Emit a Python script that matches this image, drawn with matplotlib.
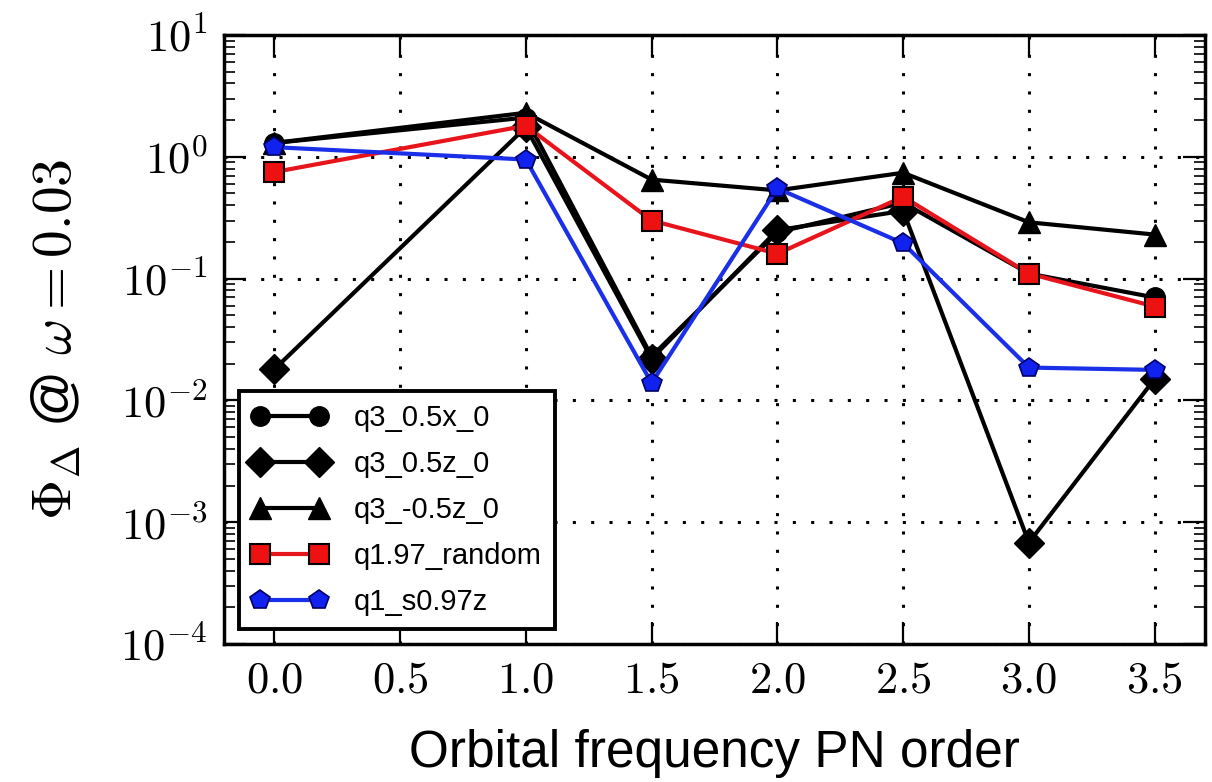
import numpy as np
import matplotlib
matplotlib.use("Agg")
import matplotlib.pyplot as plt

plt.rcParams['mathtext.fontset'] = 'cm'
plt.rcParams['font.family'] = ['Liberation Sans', 'DejaVu Sans']

# ---------------- data ----------------
pn_order = [0.0, 1.0, 1.5, 2.0, 2.5, 3.0, 3.5]

q3_05x_0 = [1.3, 2.1, 0.023, 0.24, 0.42, 0.11, 0.07]
q3_05z_0 = [0.018, 1.75, 0.022, 0.25, 0.36, 0.00068, 0.015]
q3_m05z_0 = [1.3, 2.3, 0.65, 0.53, 0.74, 0.29, 0.23]
q197_random = [0.75, 1.8, 0.30, 0.16, 0.47, 0.11, 0.059]
q1_s097z = [1.2, 0.95, 0.0139, 0.55, 0.195, 0.0186, 0.0178]

labels = ['q3_0.5x_0', 'q3_0.5z_0', 'q3_-0.5z_0', 'q1.97_random', 'q1_s0.97z']

xticks = [0.0, 0.5, 1.0, 1.5, 2.0, 2.5, 3.0, 3.5]
xtick_labels = ['$0.0$', '$0.5$', '$1.0$', '$1.5$', '$2.0$', '$2.5$', '$3.0$', '$3.5$']
yticks = [1e-4, 1e-3, 1e-2, 1e-1, 1e0, 1e1]
ytick_labels = ['$10^{-4}$', '$10^{-3}$', '$10^{-2}$', '$10^{-1}$', '$10^{0}$', '$10^{1}$']

# ---------------- figure ----------------
fig = plt.figure(figsize=(12.12, 7.82), dpi=100)
ax = fig.add_axes([0.1848, 0.1765, 0.8094, 0.7787])

lw = 3.0
ax.plot(pn_order, q3_05x_0, 'k-o', lw=lw, ms=14, mec='k', label=labels[0])
ax.plot(pn_order, q3_05z_0, 'k-D', lw=lw, ms=15, mec='k', label=labels[1])
ax.plot(pn_order, q3_m05z_0, 'k-^', lw=lw, ms=16, mec='k', label=labels[2])
ax.plot(pn_order, q197_random, '-s', color='#e8141b', mfc='#ee1111', mec='k',
        mew=1.5, lw=lw, ms=15, label=labels[3])
ax.plot(pn_order, q1_s097z, '-p', color='#1a2fe8', mfc='#1122ee', mec='#000066',
        mew=1.2, lw=lw, ms=15, label=labels[4])

ax.set_yscale('log')
ax.set_xlim(-0.2, 3.7)
ax.set_ylim(1e-4, 1e1)

ax.set_xticks(xticks)
ax.set_xticklabels(xtick_labels)
ax.set_yticks(yticks)
ax.set_yticklabels(ytick_labels)

ax.tick_params(which='major', direction='in', length=16, width=1.6,
               top=True, right=True, labelsize=32, pad=12)
ax.tick_params(which='minor', direction='in', length=8, width=1.2,
               top=False, right=True, left=True, bottom=False)
for s in ax.spines.values():
    s.set_linewidth(2.5)

ax.grid(True, which='major', color='k', linestyle=(0, (1, 5)), linewidth=2.2)

ax.set_xlabel('Orbital frequency PN order', fontsize=37, labelpad=20)
ax.set_ylabel(r'$\Phi_\Delta$ @ $\omega = 0.03$', fontsize=40, labelpad=26)

leg = ax.legend(loc='lower left', numpoints=2, fontsize=21, fancybox=False,
                framealpha=1, edgecolor='k', borderaxespad=0.5,
                handlelength=2.6, labelspacing=0.62, handletextpad=0.9,
                borderpad=0.45)
leg.get_frame().set_linewidth(2.8)

fig.savefig('out.png', dpi=100)
